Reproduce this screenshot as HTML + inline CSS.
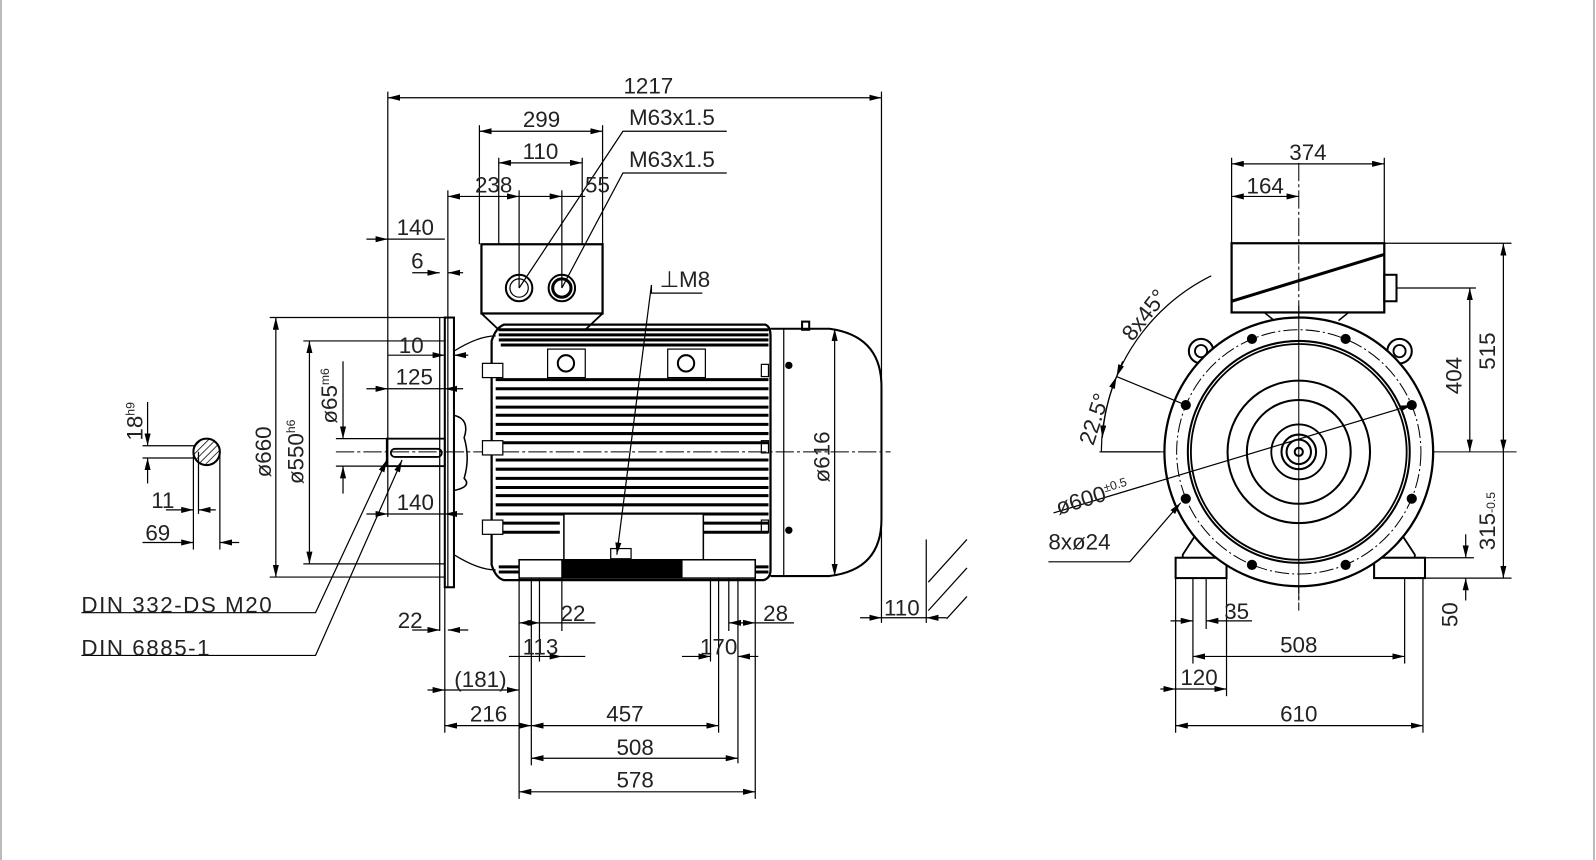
<!DOCTYPE html>
<html><head><meta charset="utf-8"><style>
html,body{margin:0;padding:0;background:#fff;}
svg{display:block;}
text{font-family:"Liberation Sans Narrow","Liberation Sans",sans-serif;font-size:22px;fill:#222;}
</style></head><body>
<svg width="1596" height="860" viewBox="0 0 1568 845" preserveAspectRatio="none" xmlns="http://www.w3.org/2000/svg">
<defs>
<marker id="a" viewBox="0 0 12 6" refX="12" refY="3" markerWidth="12" markerHeight="6" markerUnits="userSpaceOnUse" orient="auto-start-reverse"><path d="M0,0L12,3L0,6z" fill="#000"/></marker>
<pattern id="h" width="5" height="5" patternUnits="userSpaceOnUse" patternTransform="rotate(45)"><line x1="0" y1="0" x2="0" y2="5" stroke="#000" stroke-width="1.5"/></pattern>
</defs>
<rect width="1568" height="845" fill="#fff"/>
<line x1="1" y1="0" x2="1" y2="845" stroke="#bbb" stroke-width="2"/>
<line x1="1566" y1="0" x2="1566" y2="845" stroke="#bbb" stroke-width="2"/>

<g stroke="#000" fill="none" stroke-width="1.2">
<line x1="330" y1="444" x2="875" y2="444" stroke-dasharray="18,3,3,3" stroke-width="1"/>
<line x1="1080" y1="444" x2="1490" y2="444" stroke-width="1"/>
<line x1="1276" y1="160" x2="1276" y2="600" stroke-dasharray="18,3,3,3" stroke-width="1"/>

<rect x="473" y="240" width="119" height="68" stroke-width="2.2"/>
<path d="M473,308 L490,324 L575,324 L592,308" stroke-width="1.8"/>
<circle cx="510" cy="283" r="13" stroke-width="2"/><circle cx="510" cy="283" r="9"/>
<circle cx="552" cy="283" r="13" stroke-width="2"/><circle cx="552" cy="283" r="9" stroke-width="3"/>
<rect x="437" y="312" width="9" height="265" stroke-width="2"/>
<line x1="432" y1="312" x2="432" y2="620"/>
<rect x="380" y="431" width="57" height="27" stroke-width="1.8"/>
<rect x="384" y="441" width="50" height="8" rx="4" stroke-width="1.8"/>
<path d="M446,408 Q462,412 456,430 Q462,450 456,470 Q464,478 446,482" stroke-width="1.5"/>
<path d="M446,345 Q470,330 487,330 M446,545 Q470,560 487,560" stroke-width="1.2"/>
<path d="M495,319 L752,319 Q757,321 757,330 L757,560 Q757,568 750,570 L495,570 Q487,568 483,555 L483,335 Q487,322 495,319Z" stroke-width="2.2"/>
<g stroke-width="3">
<line x1="487" y1="373" x2="755" y2="373"/><line x1="487" y1="382" x2="755" y2="382"/><line x1="487" y1="391" x2="755" y2="391"/><line x1="487" y1="400" x2="755" y2="400"/><line x1="487" y1="408" x2="755" y2="408"/><line x1="487" y1="417" x2="755" y2="417"/><line x1="487" y1="426" x2="755" y2="426"/><line x1="487" y1="435" x2="755" y2="435"/><line x1="487" y1="452" x2="755" y2="452"/><line x1="487" y1="461" x2="755" y2="461"/><line x1="487" y1="470" x2="755" y2="470"/><line x1="487" y1="479" x2="755" y2="479"/><line x1="487" y1="487" x2="755" y2="487"/><line x1="487" y1="496" x2="755" y2="496"/><line x1="487" y1="505" x2="755" y2="505"/>
<line x1="490" y1="324" x2="755" y2="324"/><line x1="490" y1="329" x2="755" y2="329"/><line x1="490" y1="334" x2="755" y2="334"/><line x1="492" y1="339" x2="755" y2="339"/>
<line x1="487" y1="514" x2="550" y2="514"/><line x1="690" y1="514" x2="755" y2="514"/><line x1="487" y1="523" x2="550" y2="523"/><line x1="690" y1="523" x2="755" y2="523"/>
<line x1="490" y1="557" x2="755" y2="557"/><line x1="490" y1="562" x2="755" y2="562"/>
</g>
<rect x="538" y="343" width="37" height="28" fill="#fff"/><circle cx="556" cy="357" r="8" stroke-width="2"/>
<rect x="656" y="343" width="37" height="28" fill="#fff"/><circle cx="674" cy="357" r="8" stroke-width="2"/>
<rect x="474" y="357" width="20" height="14" fill="#fff"/><rect x="474" y="433" width="20" height="14" fill="#fff"/><rect x="474" y="511" width="20" height="14" fill="#fff"/>
<rect x="748" y="358" width="7" height="12"/><rect x="748" y="433" width="7" height="12"/><rect x="748" y="511" width="7" height="12"/>
<rect x="554" y="505" width="137" height="45" fill="#fff" stroke-width="1.5"/>
<rect x="510" y="550" width="232" height="18" fill="#fff" stroke-width="1.5"/>
<rect x="552" y="551" width="118" height="16" fill="#000"/>
<rect x="600" y="539" width="20" height="10" stroke-width="1.2"/>
<path d="M757,323 L815,323 Q866,330 866,380 L866,510 Q866,560 815,566 L757,566" stroke-width="2"/>
<line x1="770" y1="323" x2="770" y2="566"/>
<circle cx="775" cy="359" r="3" fill="#000"/><circle cx="775" cy="521" r="3" fill="#000"/>
<rect x="788" y="316" width="7" height="8" stroke-width="2"/>

<line x1="381" y1="90" x2="381" y2="508"/>
<line x1="866" y1="90" x2="866" y2="612"/>
<line x1="471" y1="123" x2="471" y2="240"/><line x1="592" y1="123" x2="592" y2="240"/>
<line x1="490" y1="155" x2="490" y2="240"/><line x1="572" y1="155" x2="572" y2="240"/>
<line x1="510" y1="187" x2="510" y2="283"/><line x1="552" y1="187" x2="552" y2="283"/>
<line x1="440" y1="187" x2="440" y2="577"/>
<line x1="381" y1="96" x2="866" y2="96" marker-start="url(#a)" marker-end="url(#a)"/>
<line x1="471" y1="129" x2="592" y2="129" marker-start="url(#a)" marker-end="url(#a)"/>
<line x1="490" y1="160" x2="572" y2="160" marker-start="url(#a)" marker-end="url(#a)"/>
<line x1="440" y1="193" x2="510" y2="193" marker-start="url(#a)" marker-end="url(#a)"/>
<line x1="510" y1="193" x2="552" y2="193" marker-end="url(#a)"/>
<line x1="552" y1="193" x2="575" y2="193"/>
<polyline points="714,129 612,129 510,283"/>
<polyline points="714,170 612,170 552,283"/>
<line x1="360" y1="235" x2="381" y2="235" marker-end="url(#a)"/><line x1="381" y1="235" x2="437" y2="235"/>
<line x1="405" y1="268" x2="432" y2="268" marker-end="url(#a)"/><line x1="455" y1="268" x2="440" y2="268" marker-end="url(#a)"/>
<line x1="381" y1="349" x2="437" y2="349" marker-end="url(#a)"/><line x1="460" y1="349" x2="446" y2="349" marker-end="url(#a)"/>
<line x1="360" y1="382" x2="381" y2="382" marker-end="url(#a)"/><line x1="381" y1="382" x2="437" y2="382"/><line x1="455" y1="382" x2="437" y2="382" marker-end="url(#a)"/>
<line x1="360" y1="505" x2="381" y2="505" marker-end="url(#a)"/><line x1="381" y1="505" x2="437" y2="505"/><line x1="455" y1="505" x2="437" y2="505" marker-end="url(#a)"/>
<line x1="265" y1="312" x2="437" y2="312"/><line x1="265" y1="567" x2="437" y2="567"/>
<line x1="271" y1="312" x2="271" y2="567" marker-start="url(#a)" marker-end="url(#a)"/>
<line x1="298" y1="335" x2="437" y2="335"/><line x1="298" y1="554" x2="437" y2="554"/>
<line x1="304" y1="335" x2="304" y2="554" marker-start="url(#a)" marker-end="url(#a)"/>
<line x1="330" y1="431" x2="380" y2="431"/><line x1="330" y1="458" x2="380" y2="458"/>
<line x1="337" y1="355" x2="337" y2="431" marker-end="url(#a)"/><line x1="337" y1="485" x2="337" y2="458" marker-end="url(#a)"/>
<circle cx="203" cy="444" r="13" fill="url(#h)" stroke-width="2"/>
<line x1="140" y1="438" x2="192" y2="438"/><line x1="140" y1="450" x2="192" y2="450"/>
<line x1="145" y1="395" x2="145" y2="438" marker-end="url(#a)"/><line x1="145" y1="475" x2="145" y2="450" marker-end="url(#a)"/>
<line x1="190" y1="444" x2="190" y2="540"/><line x1="216" y1="444" x2="216" y2="540"/>
<line x1="163" y1="501" x2="190" y2="501" marker-end="url(#a)"/><line x1="212" y1="501" x2="195" y2="501" marker-end="url(#a)"/><line x1="195" y1="444" x2="195" y2="505"/>
<line x1="140" y1="533" x2="190" y2="533" marker-end="url(#a)"/><line x1="235" y1="533" x2="216" y2="533" marker-end="url(#a)"/>
<polyline points="80,602 310,602 380,452" marker-end="url(#a)"/>
<polyline points="80,644 310,644 395,452" marker-end="url(#a)"/>
<polyline points="690,288 640,288 640,280 606,545" marker-end="url(#a)"/>
<line x1="820" y1="323" x2="820" y2="566" marker-start="url(#a)" marker-end="url(#a)"/>
<line x1="437" y1="577" x2="437" y2="720"/>
<line x1="510" y1="568" x2="510" y2="785"/><line x1="522" y1="568" x2="522" y2="720"/>
<line x1="530" y1="568" x2="530" y2="650"/><line x1="552" y1="568" x2="552" y2="620"/>
<line x1="698" y1="568" x2="698" y2="650"/><line x1="706" y1="568" x2="706" y2="720"/><line x1="716" y1="568" x2="716" y2="620"/>
<line x1="725" y1="568" x2="725" y2="750"/><line x1="742" y1="568" x2="742" y2="785"/>
<line x1="522" y1="720" x2="522" y2="752"/>
<line x1="405" y1="619" x2="432" y2="619" marker-end="url(#a)"/><line x1="460" y1="619" x2="440" y2="619" marker-end="url(#a)"/>
<line x1="510" y1="612" x2="530" y2="612" marker-start="url(#a)" marker-end="url(#a)"/><line x1="530" y1="612" x2="585" y2="612"/>
<line x1="500" y1="645" x2="552" y2="645" marker-end="url(#a)"/><line x1="575" y1="645" x2="552" y2="645"/>
<line x1="716" y1="612" x2="742" y2="612" marker-start="url(#a)" marker-end="url(#a)"/><line x1="742" y1="612" x2="780" y2="612"/>
<line x1="670" y1="645" x2="698" y2="645" marker-end="url(#a)"/><line x1="745" y1="645" x2="725" y2="645" marker-end="url(#a)"/>
<line x1="420" y1="678" x2="437" y2="678" marker-end="url(#a)"/><line x1="437" y1="678" x2="510" y2="678" marker-end="url(#a)"/>
<line x1="437" y1="713" x2="522" y2="713" marker-start="url(#a)" marker-end="url(#a)"/>
<line x1="522" y1="713" x2="706" y2="713" marker-start="url(#a)" marker-end="url(#a)"/>
<line x1="522" y1="745" x2="725" y2="745" marker-start="url(#a)" marker-end="url(#a)"/>
<line x1="510" y1="778" x2="742" y2="778" marker-start="url(#a)" marker-end="url(#a)"/>
<line x1="845" y1="607" x2="866" y2="607" marker-end="url(#a)"/><line x1="866" y1="607" x2="910" y2="607"/>
<line x1="930" y1="607" x2="910" y2="607" marker-end="url(#a)"/>
<line x1="910" y1="530" x2="910" y2="612"/>
<line x1="912" y1="572" x2="950" y2="530"/><line x1="912" y1="600" x2="950" y2="558"/><line x1="930" y1="608" x2="950" y2="586"/>

<rect x="1210" y="239" width="150" height="68" stroke-width="2.2"/>
<line x1="1210" y1="296" x2="1360" y2="250" stroke-width="3"/>
<rect x="1360" y="270" width="12" height="26" stroke-width="2"/>
<path d="M1242,307 L1252,315 M1325,307 L1315,315" stroke-width="1.5"/>
<circle cx="1180" cy="345" r="12" stroke-width="2" fill="#fff"/><circle cx="1180" cy="345" r="6" stroke-width="1.8"/>
<circle cx="1375" cy="345" r="12" stroke-width="2" fill="#fff"/><circle cx="1375" cy="345" r="6" stroke-width="1.8"/>
<path d="M1175,525 L1162,545 L1162,555 M1377,525 L1390,545 L1390,555" stroke-width="1.8"/>
<rect x="1155" y="548" width="50" height="20" stroke-width="2" fill="#fff"/>
<rect x="1350" y="548" width="50" height="20" stroke-width="2" fill="#fff"/>
<circle cx="1276" cy="444" r="132" stroke-width="2.2" fill="#fff"/>
<circle cx="1276" cy="444" r="120" stroke-dasharray="14,3,2,3" stroke-width="1"/>
<circle cx="1276" cy="444" r="109" stroke-width="2"/>
<circle cx="1276" cy="444" r="106" stroke-width="1.8"/>
<circle cx="1276" cy="444" r="70" stroke-width="2"/>
<circle cx="1276" cy="444" r="51" stroke-width="2"/>
<circle cx="1276" cy="444" r="27" stroke-width="1.8"/>
<circle cx="1276" cy="444" r="17" stroke-width="2"/>
<circle cx="1276" cy="444" r="12" stroke-width="2"/>
<circle cx="1276" cy="444" r="4" stroke-width="2"/>
<g fill="#000" stroke="none">
<circle cx="1165" cy="398" r="5"/><circle cx="1387" cy="398" r="5"/><circle cx="1165" cy="490" r="5"/><circle cx="1387" cy="490" r="5"/>
<circle cx="1230" cy="333" r="5"/><circle cx="1322" cy="333" r="5"/><circle cx="1230" cy="555" r="5"/><circle cx="1322" cy="555" r="5"/>
</g>
<line x1="1276" y1="300" x2="1276" y2="590" stroke-width="1"/>
<line x1="1210" y1="155" x2="1210" y2="239"/><line x1="1360" y1="155" x2="1360" y2="239"/>
<line x1="1210" y1="161" x2="1360" y2="161" marker-start="url(#a)" marker-end="url(#a)"/>
<line x1="1210" y1="193" x2="1276" y2="193" marker-start="url(#a)" marker-end="url(#a)"/>
<line x1="1360" y1="239" x2="1485" y2="239"/><line x1="1372" y1="283" x2="1450" y2="283"/>
<line x1="1477" y1="239" x2="1477" y2="444" marker-start="url(#a)" marker-end="url(#a)"/>
<line x1="1444" y1="283" x2="1444" y2="444" marker-start="url(#a)" marker-end="url(#a)"/>
<line x1="1477" y1="444" x2="1477" y2="568" marker-end="url(#a)"/>
<line x1="1400" y1="568" x2="1485" y2="568"/><line x1="1400" y1="548" x2="1448" y2="548"/>
<line x1="1440" y1="525" x2="1440" y2="548" marker-end="url(#a)"/><line x1="1440" y1="590" x2="1440" y2="568" marker-end="url(#a)"/>
<line x1="1155" y1="568" x2="1155" y2="720"/><line x1="1398" y1="568" x2="1398" y2="720"/>
<line x1="1172" y1="568" x2="1172" y2="652"/><line x1="1185" y1="568" x2="1185" y2="618"/>
<line x1="1205" y1="568" x2="1205" y2="684"/><line x1="1380" y1="568" x2="1380" y2="652"/>
<line x1="1150" y1="610" x2="1172" y2="610" marker-end="url(#a)"/><line x1="1205" y1="610" x2="1185" y2="610" marker-end="url(#a)"/><line x1="1205" y1="610" x2="1230" y2="610"/>
<line x1="1172" y1="645" x2="1380" y2="645" marker-start="url(#a)" marker-end="url(#a)"/>
<line x1="1140" y1="677" x2="1155" y2="677" marker-end="url(#a)"/><line x1="1155" y1="677" x2="1205" y2="677" marker-end="url(#a)"/>
<line x1="1155" y1="713" x2="1398" y2="713" marker-start="url(#a)" marker-end="url(#a)"/>
<path d="M1082,444 A194,194 0 0 1 1190,271"/>
<line x1="1082" y1="444" x2="1140" y2="444"/>
<line x1="1097" y1="370" x2="1165" y2="398"/>
<path d="M1083,430 A194,194 0 0 1 1097,370" marker-start="url(#a)" marker-end="url(#a)" fill="none"/>
<path d="M1097,370 L1103,355" marker-start="url(#a)"/>
<line x1="1035" y1="504" x2="1387" y2="398" marker-end="url(#a)"/>
<polyline points="1030,552 1110,552 1160,494" marker-end="url(#a)"/>
</g>

<g transform="translate(0,4)">
<text x="637" y="88" text-anchor="middle">1217</text>
<text x="532" y="121" text-anchor="middle">299</text>
<text x="531" y="152" text-anchor="middle">110</text>
<text x="485" y="185" text-anchor="middle">238</text>
<text x="587" y="185" text-anchor="middle">55</text>
<text x="618" y="119">M63x1.5</text>
<text x="618" y="160">M63x1.5</text>
<text x="408" y="227" text-anchor="middle">140</text>
<text x="410" y="260" text-anchor="middle">6</text>
<text x="404" y="343" text-anchor="middle">10</text>
<text x="407" y="374" text-anchor="middle">125</text>
<text x="408" y="497" text-anchor="middle">140</text>
<text x="648" y="278">⊥M8</text>
<text transform="translate(266,440) rotate(-90)" text-anchor="middle">ø660</text>
<text transform="translate(298,440) rotate(-90)" text-anchor="middle">ø550<tspan font-size="12" dy="-8">h6</tspan></text>
<text transform="translate(331,385) rotate(-90)" text-anchor="middle">ø65<tspan font-size="12" dy="-8">m6</tspan></text>
<text transform="translate(140,410) rotate(-90)" text-anchor="middle">18<tspan font-size="12" dy="-8">h9</tspan></text>
<text transform="translate(815,445) rotate(-90)" text-anchor="middle">ø616</text>
<text x="160" y="495" text-anchor="middle">11</text>
<text x="155" y="527" text-anchor="middle">69</text>
<text x="80" y="598" letter-spacing="1.5">DIN 332-DS M20</text>
<text x="80" y="640" letter-spacing="1.5">DIN 6885-1</text>
<text x="403" y="613" text-anchor="middle">22</text>
<text x="563" y="606" text-anchor="middle">22</text>
<text x="531" y="639" text-anchor="middle">113</text>
<text x="762" y="606" text-anchor="middle">28</text>
<text x="706" y="639" text-anchor="middle">170</text>
<text x="472" y="671" text-anchor="middle">(181)</text>
<text x="480" y="705" text-anchor="middle">216</text>
<text x="614" y="705" text-anchor="middle">457</text>
<text x="624" y="738" text-anchor="middle">508</text>
<text x="624" y="770" text-anchor="middle">578</text>
<text x="886" y="601" text-anchor="middle">110</text>
<text x="1285" y="153" text-anchor="middle">374</text>
<text x="1243" y="186" text-anchor="middle">164</text>
<text transform="translate(1469,341) rotate(-90)" text-anchor="middle">515</text>
<text transform="translate(1436,365) rotate(-90)" text-anchor="middle">404</text>
<text transform="translate(1469,508) rotate(-90)" text-anchor="middle">315<tspan font-size="12">-0.5</tspan></text>
<text transform="translate(1432,600) rotate(-90)" text-anchor="middle">50</text>
<text x="1215" y="604" text-anchor="middle">35</text>
<text x="1276" y="637" text-anchor="middle">508</text>
<text x="1178" y="669" text-anchor="middle">120</text>
<text x="1276" y="705" text-anchor="middle">610</text>
<text transform="translate(1082,410) rotate(-72)" text-anchor="middle">22.5°</text>
<text transform="translate(1130,310) rotate(-52)" text-anchor="middle">8x45°</text>
<text transform="translate(1040,502) rotate(-17)">ø600<tspan font-size="12" dy="-8">±0.5</tspan></text>
<text x="1030" y="536">8xø24</text>
</g>
</svg>
</body></html>
